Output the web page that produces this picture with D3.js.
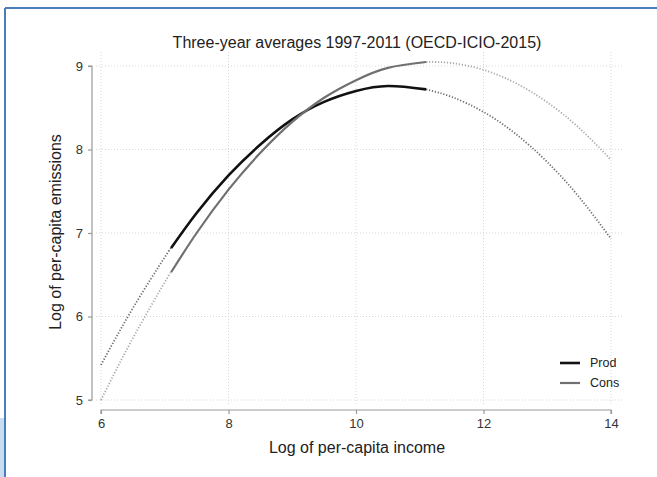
<!DOCTYPE html>
<html><head><meta charset="utf-8">
<script src="https://cdn.jsdelivr.net/npm/d3@7"></script>
<style>body{margin:0;background:#fff;}svg{display:block;font-family:"Liberation Sans",Arial,sans-serif;}</style>
</head><body>
<svg id="c" width="657" height="477"></svg>
<script>
const title = "Three-year averages 1997-2011 (OECD-ICIO-2015)";
const xLabel = "Log of per-capita income";
const yLabel = "Log of per-capita emissions";
const xTicks = [6, 8, 10, 12, 14];
const yTicks = [5, 6, 7, 8, 9];
const seriesNames = ["Prod", "Cons"];
const incomeGrid = [6, 6.5, 7, 7.1, 7.5, 8, 8.5, 9, 9.5, 10, 10.5, 11.1, 11.5, 12, 12.5, 13, 13.5, 14];
const prodValues = [5.42, 6.10, 6.71, 6.82, 7.24, 7.69, 8.06, 8.36, 8.57, 8.70, 8.76, 8.72, 8.63, 8.45, 8.19, 7.85, 7.43, 6.93];
const consValues = [5.00, 5.74, 6.41, 6.53, 7.00, 7.52, 7.96, 8.33, 8.62, 8.83, 8.978, 9.048, 9.036, 8.954, 8.797, 8.565, 8.258, 7.876];
const sampleRange = [7.1, 11.1];

const svg = d3.select("#c");
// frame decoration
svg.append("rect").attr("x",0).attr("y",418).attr("width",5).attr("height",59).attr("fill","#c9dcf0");
svg.append("line").attr("x1",5).attr("x2",657).attr("y1",8).attr("y2",8).attr("stroke","#4a7ebb").attr("stroke-width",2);
svg.append("line").attr("x1",5).attr("x2",5).attr("y1",8).attr("y2",477).attr("stroke","#4a7ebb").attr("stroke-width",2);

const x = d3.scaleLinear().domain([6,14]).range([101,611]);
const y = d3.scaleLinear().domain([5,9]).range([400,66]);

// grid
const g = svg.append("g");
g.selectAll(".vg").data(xTicks).join("line")
  .attr("x1",d=>x(d)).attr("x2",d=>x(d)).attr("y1",52).attr("y2",404)
  .attr("stroke","#d8d8d8").attr("stroke-dasharray","1,2");
g.selectAll(".hg").data(yTicks).join("line")
  .attr("x1",96).attr("x2",622).attr("y1",d=>y(d)).attr("y2",d=>y(d))
  .attr("stroke","#d8d8d8").attr("stroke-dasharray","1,2");

// axes
const xAxis = svg.append("g").attr("transform","translate(0,410)")
  .call(d3.axisBottom(x).tickValues(xTicks).tickSize(4).tickPadding(5).tickFormat(d3.format("d")));
const yAxis = svg.append("g").attr("transform","translate(92,0)")
  .call(d3.axisLeft(y).tickValues(yTicks).tickSize(4).tickPadding(5).tickFormat(d3.format("d")));
[xAxis,yAxis].forEach(a=>{
  a.select(".domain").attr("stroke","#999").attr("stroke-width",1.2);
  a.selectAll(".tick line").attr("stroke","#999").attr("stroke-width",1.2);
  a.selectAll("text").attr("fill","#333").attr("font-size",13).attr("font-family","Liberation Sans, Arial, sans-serif");
});
yAxis.select(".domain").attr("d","M-4,"+y(9)+"H0V"+y(5)+"H-4");
xAxis.select(".domain").attr("d","M"+x(6)+",4V0H"+x(14)+"V4");

const pts = vals => incomeGrid.map((v,i)=>[v, vals[i]]);
const line = d3.line().x(d=>x(d[0])).y(d=>y(d[1])).curve(d3.curveNatural);
const inS = d => d[0] >= sampleRange[0] && d[0] <= sampleRange[1];
const lo = d => d[0] <= sampleRange[0];
const hi = d => d[0] >= sampleRange[1];

const styles = [
  {vals: prodValues, solid:"#111", sw:2.6, dot:"#6a6a6a"},
  {vals: consValues, solid:"#707070", sw:2.2, dot:"#a8a8a8"}
];
styles.forEach(s=>{
  const p = pts(s.vals);
  [p.filter(lo), p.filter(hi)].forEach(seg=>{
    svg.append("path").attr("d",line(seg)).attr("fill","none")
      .attr("stroke",s.dot).attr("stroke-width",1.8).attr("stroke-dasharray","1.2,1.8");
  });
  svg.append("path").attr("d",line(p.filter(inS))).attr("fill","none")
    .attr("stroke",s.solid).attr("stroke-width",s.sw);
});

// title & labels
svg.append("text").attr("x",357).attr("y",48).attr("text-anchor","middle")
  .attr("font-size",16).attr("fill","#222").text(title);
svg.append("text").attr("x",357).attr("y",453).attr("text-anchor","middle")
  .attr("font-size",16).attr("fill","#222").text(xLabel);
svg.append("text").attr("transform","translate(61,232) rotate(-90)").attr("text-anchor","middle")
  .attr("font-size",16).attr("fill","#222").text(yLabel);

// legend
const leg = svg.append("g");
styles.forEach((s,i)=>{
  const yy = 363 + i*20;
  leg.append("line").attr("x1",560).attr("x2",580).attr("y1",yy).attr("y2",yy)
    .attr("stroke",s.solid).attr("stroke-width",s.sw);
  leg.append("text").attr("x",590).attr("y",yy+4).attr("font-size",12.5).attr("fill","#222").text(seriesNames[i]);
});
</script>
</body></html>
